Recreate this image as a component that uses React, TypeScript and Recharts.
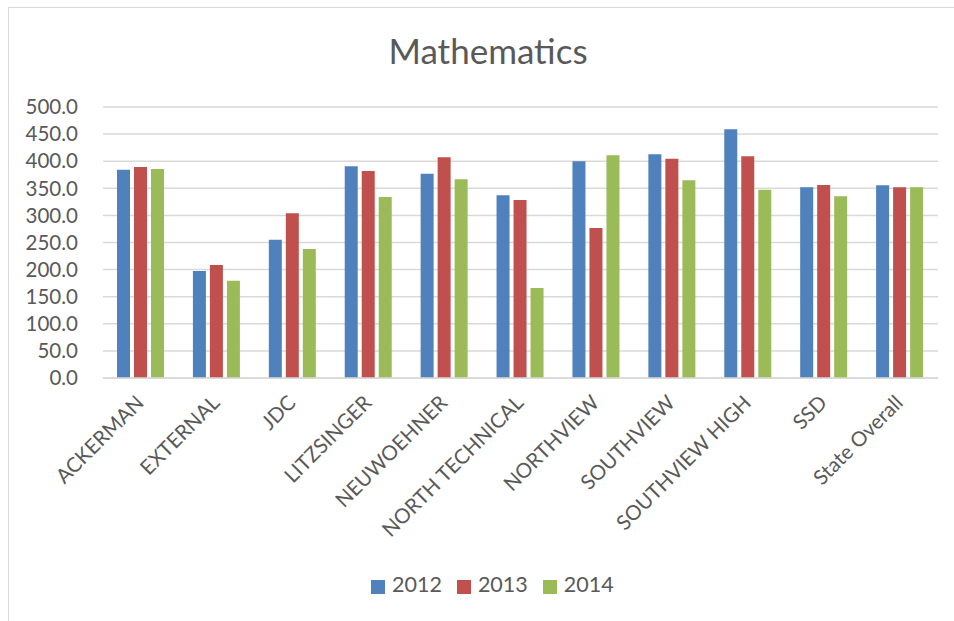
import React from "react";
import {
  BarChart,
  Bar,
  XAxis,
  YAxis,
  CartesianGrid,
  Legend,
} from "recharts";

const schools = [
  "ACKERMAN",
  "EXTERNAL",
  "JDC",
  "LITZSINGER",
  "NEUWOEHNER",
  "NORTH TECHNICAL",
  "NORTHVIEW",
  "SOUTHVIEW",
  "SOUTHVIEW HIGH",
  "SSD",
  "State Overall",
];

const scores2012 = [384.4, 197.4, 255.2, 390.5, 377.0, 337.0, 399.8, 412.7, 458.8, 351.8, 355.5];
const scores2013 = [389.3, 208.5, 303.8, 381.9, 407.1, 328.4, 276.8, 404.7, 409.0, 356.1, 351.8];
const scores2014 = [385.6, 179.6, 238.0, 334.0, 366.5, 166.1, 410.8, 364.7, 347.5, 335.2, 351.8];

const yTicks = [0, 50, 100, 150, 200, 250, 300, 350, 400, 450, 500];

const chartData = schools.map((school, i) => ({
  school,
  y2012: scores2012[i],
  y2013: scores2013[i],
  y2014: scores2014[i],
}));

const FONT = "Lato, 'Open Sans', sans-serif";
const TEXT = "#595959";

function SchoolTick(props: any) {
  const { x, y, payload } = props;
  const tx = x - 1;
  const ty = y + 13;
  return (
    <text
      x={tx}
      y={ty}
      dy="0.35em"
      textAnchor="end"
      transform={`rotate(-45, ${tx}, ${ty})`}
      fill={TEXT}
      fontSize={20.5}
      fontFamily={FONT}
    >
      {payload.value}
    </text>
  );
}

export default function App() {
  return (
    <div
      style={{
        position: "absolute",
        left: 0,
        top: 0,
        width: 954,
        height: 621,
        background: "#fff",
        overflow: "hidden",
      }}
    >
      <div
        style={{
          position: "absolute",
          left: 8,
          top: 7,
          width: 960,
          height: 640,
          borderLeft: "1.5px solid #d9d9d9",
          borderTop: "1.5px solid #d9d9d9",
        }}
      />
      <div
        style={{
          position: "absolute",
          left: 0,
          top: 29,
          width: 976,
          textAlign: "center",
          fontFamily: FONT,
          fontSize: 35,
          color: TEXT,
          lineHeight: "42px",
        }}
      >
        Mathematics
      </div>
      <BarChart
        width={954}
        height={621}
        data={chartData}
        margin={{ top: 107, right: 16, left: 0, bottom: 20 }}
        barSize={13}
        barGap={4}
        style={{ position: "absolute", left: 0, top: 0 }}
      >
        <CartesianGrid vertical={false} stroke="#d9d9d9" strokeWidth={1.5} />
        <XAxis
          dataKey="school"
          interval={0}
          height={197}
          tickLine={false}
          axisLine={{ stroke: "#d9d9d9", strokeWidth: 1.5 }}
          tick={<SchoolTick />}
        />
        <YAxis
          width={103}
          domain={[0, 500]}
          ticks={yTicks}
          interval={0}
          tickFormatter={(v: number) => v.toFixed(1)}
          axisLine={false}
          tickLine={false}
          tickMargin={19}
          tick={{ fill: TEXT, fontSize: 20.5, fontFamily: FONT }}
        />
        <Legend
          verticalAlign="bottom"
          align="left"
          iconType="square"
          iconSize={14}
          wrapperStyle={{
            fontFamily: FONT,
            fontSize: 21.5,
            left: 371,
            width: 320,
            bottom: 24,
            whiteSpace: "nowrap",
          }}
          formatter={(value: string) => (
            <span style={{ color: TEXT, marginLeft: 3, marginRight: 5 }}>{value}</span>
          )}
        />
        <Bar dataKey="y2012" name="2012" fill="#4F81BD" isAnimationActive={false} />
        <Bar dataKey="y2013" name="2013" fill="#C0504D" isAnimationActive={false} />
        <Bar dataKey="y2014" name="2014" fill="#9BBB59" isAnimationActive={false} />
      </BarChart>
    </div>
  );
}
